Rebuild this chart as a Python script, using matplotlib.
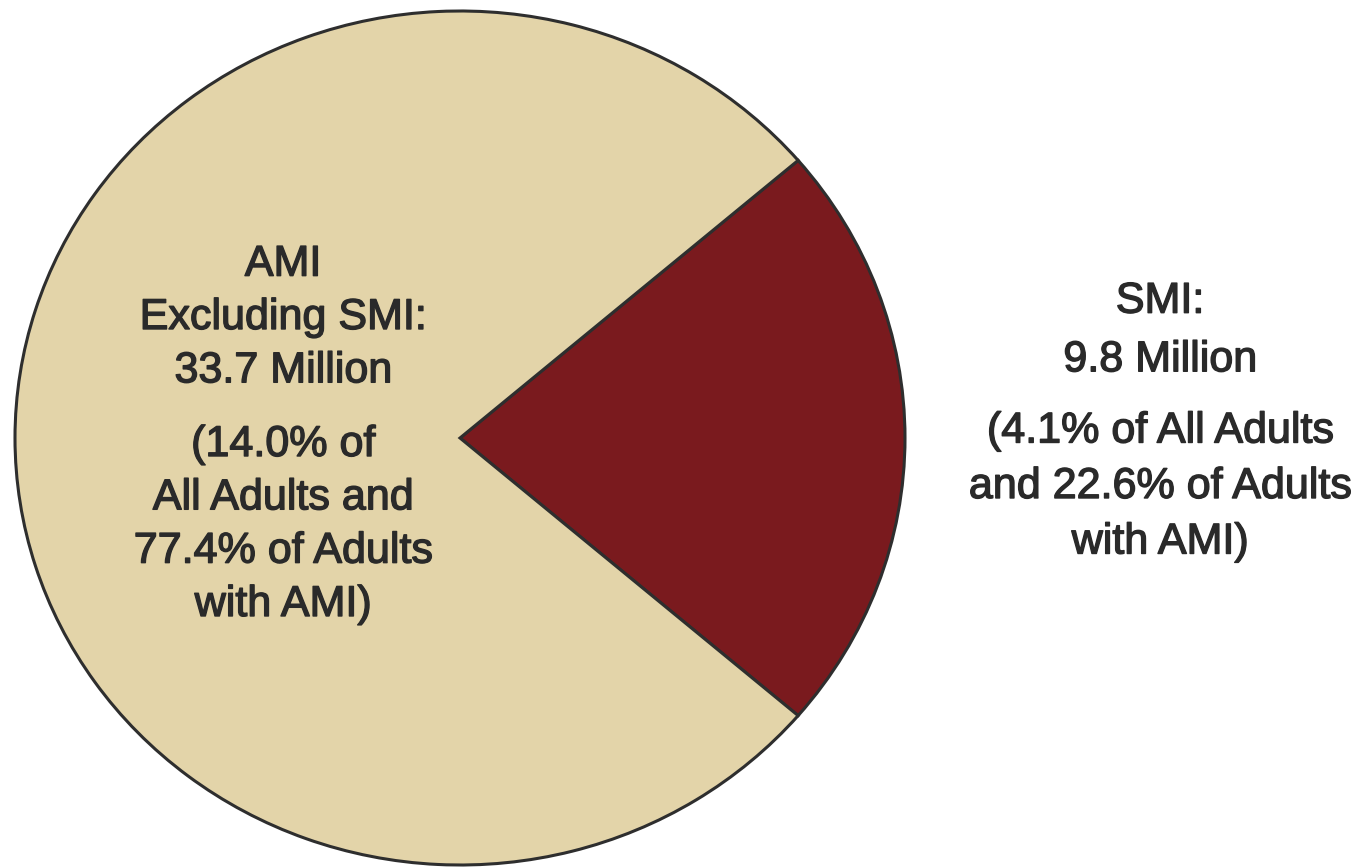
import matplotlib.pyplot as plt
import matplotlib.patheffects as pe

labels = ["SMI", "AMI Excluding SMI"]
values = [9.8, 33.7]
colors = ["#7a1a1e", "#e3d4a9"]

ami_head = "AMI\nExcluding SMI:\n33.7 Million"
ami_note = "(14.0% of\nAll Adults and\n77.4% of Adults\nwith AMI)"
smi_head = "SMI:\n9.8 Million"
smi_note = "(4.1% of All Adults\nand 22.6% of Adults\nwith AMI)"

W, H = 1359, 867
fig = plt.figure(figsize=(W / 100, H / 100), dpi=100)
ax = fig.add_axes([0, 0, 1, 1])

# smi wedge centred on the right (0 deg)
frac = values[0] / sum(values)
ax.pie(values, colors=colors, startangle=-frac * 180, counterclock=True,
       wedgeprops=dict(edgecolor="#2e2e2e", linewidth=2.2))

# the source image is a bit squashed vertically
cx, cy, rx, ry = 460, 438, 445, 427
ax.set_aspect("auto")
ax.set_xlim(-cx / rx, (W - cx) / rx)
ax.set_ylim(-(H - cy) / ry, cy / ry)
ax.axis("off")

font = dict(family=["Liberation Sans", "DejaVu Sans"],
            fontsize=31, color="#2a2a2a", ha="center", va="center",
            transform=fig.transFigure,
            path_effects=[pe.withStroke(linewidth=1.0, foreground="#2a2a2a")])

def fx(px):
    return px / W

def fy(py):
    return 1 - py / H

fig.text(fx(283), fy(318), ami_head, linespacing=1.43, **font)
fig.text(fx(283), fy(525), ami_note, linespacing=1.43, **font)
fig.text(fx(1160), fy(331), smi_head, linespacing=1.6, **font)
fig.text(fx(1160), fy(487), smi_note, linespacing=1.5, **font)

fig.savefig("out.png", dpi=100, facecolor="white")
